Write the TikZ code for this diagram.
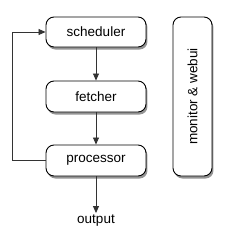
\documentclass[tikz,border=0pt]{standalone}
\usepackage{fontspec}
\setmainfont{Liberation Sans}
\usetikzlibrary{arrows.meta,shadows}
\tikzset{box/.style={draw,rounded corners=8pt,align=center,fill=white,line width=0.9pt,
    drop shadow={shadow xshift=1.5pt,shadow yshift=-2.5pt,fill=black!60,opacity=0.7},
    font=\fontsize{13.5}{15}\selectfont},
  arr/.style={-{Triangle[length=7pt,width=6pt]},line width=0.8pt,black!80}}

\begin{document}
\begin{tikzpicture}[x=1pt,y=-1pt]
\useasboundingbox (0,0) rectangle (232,242);
\node[box,minimum width=100pt,minimum height=30pt] (scheduler) at (96,32) {scheduler};
\node[box,minimum width=100pt,minimum height=31pt] (fetcher) at (96,96.5) {fetcher};
\node[box,minimum width=100pt,minimum height=31pt] (processor) at (96,160.5) {processor};
\node[box,minimum width=39pt,minimum height=159pt] (monitor) at (192.5,96.5) {};
\node[rotate=90,font=\fontsize{13.5}{15}\selectfont] (monlabel) at (monitor.center) {monitor \& webui};
\node[font=\fontsize{13.5}{15}\selectfont,inner sep=2pt] (output) at (96,221) {output};
\coordinate (loop) at (12,160.5);
\draw[arr] (scheduler) -- (fetcher);
\draw[arr] (fetcher) -- (processor);
\draw[arr] (processor) -- (output);
\draw[arr] (processor.west) -- (loop) |- (scheduler.west);
\end{tikzpicture}
\end{document}
